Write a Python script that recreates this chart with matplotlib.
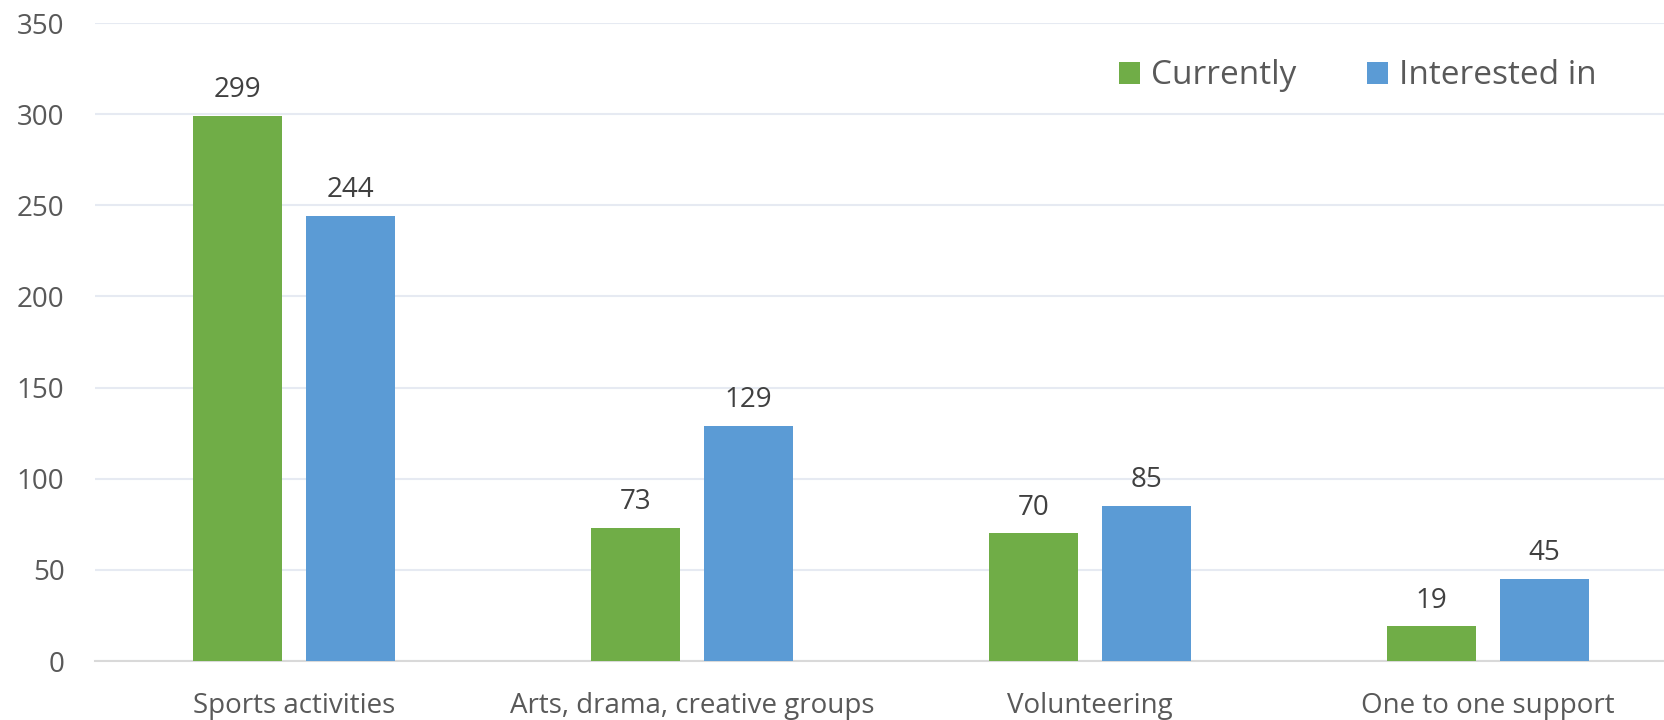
import matplotlib.pyplot as plt
import numpy as np

plt.rcParams['font.family'] = ['Open Sans', 'DejaVu Sans']

categories = ["Sports activities", "Arts, drama, creative groups", "Volunteering", "One to one support"]
currently = [299, 73, 70, 19]
interested = [244, 129, 85, 45]
yticks = [0, 50, 100, 150, 200, 250, 300, 350]

green = "#70AD47"
blue = "#5B9BD5"
text_col = "#595959"

W, H = 1665, 720
left, right, top, bottom = 95, 1665, 23, 661   # plot area in pixels

fig = plt.figure(figsize=(W / 100, H / 100), dpi=100)
ax = fig.add_axes([left / W, (H - bottom) / H, (right - left) / W, (bottom - top) / H])

x = np.arange(len(categories))
w = 0.224
b1 = ax.bar(x - 0.142, currently, w, color=green, label="Currently", zorder=3)
b2 = ax.bar(x + 0.142, interested, w, color=blue, label="Interested in", zorder=3)

# value labels above each bar
for bars in (b1, b2):
    for rect in bars:
        ax.annotate(f"{rect.get_height():.0f}",
                    (rect.get_x() + rect.get_width() / 2, rect.get_height()),
                    xytext=(0, 8.5), textcoords="offset points",
                    ha="center", va="bottom", fontsize=20, color="#404040")

ax.set_xlim(-0.5, 3.445)
ax.set_ylim(0, 350)
ax.set_yticks(yticks)
ax.set_xticks(x)
ax.set_xticklabels(categories)
ax.yaxis.grid(True, color="#E6EAF2", linewidth=1.5, zorder=0)
ax.set_axisbelow(True)

for s in ("top", "right", "left"):
    ax.spines[s].set_visible(False)
ax.spines["bottom"].set_color("#D9D9D9")
ax.spines["bottom"].set_linewidth(1.5)
ax.tick_params(axis="both", length=0, labelsize=20, colors=text_col)
ax.tick_params(axis="y", pad=22)
ax.tick_params(axis="x", pad=22)

leg = ax.legend(loc="center", ncol=2, frameon=False, fontsize=24,
                handlelength=0.63, handleheight=0.63,
                columnspacing=2.1, handletextpad=0.33, labelcolor=text_col)
leg.set_bbox_to_anchor(((1358 - left) / (right - left), (bottom - 76) / (bottom - top)),
                       transform=ax.transAxes)

fig.savefig("out.png", dpi=100)
